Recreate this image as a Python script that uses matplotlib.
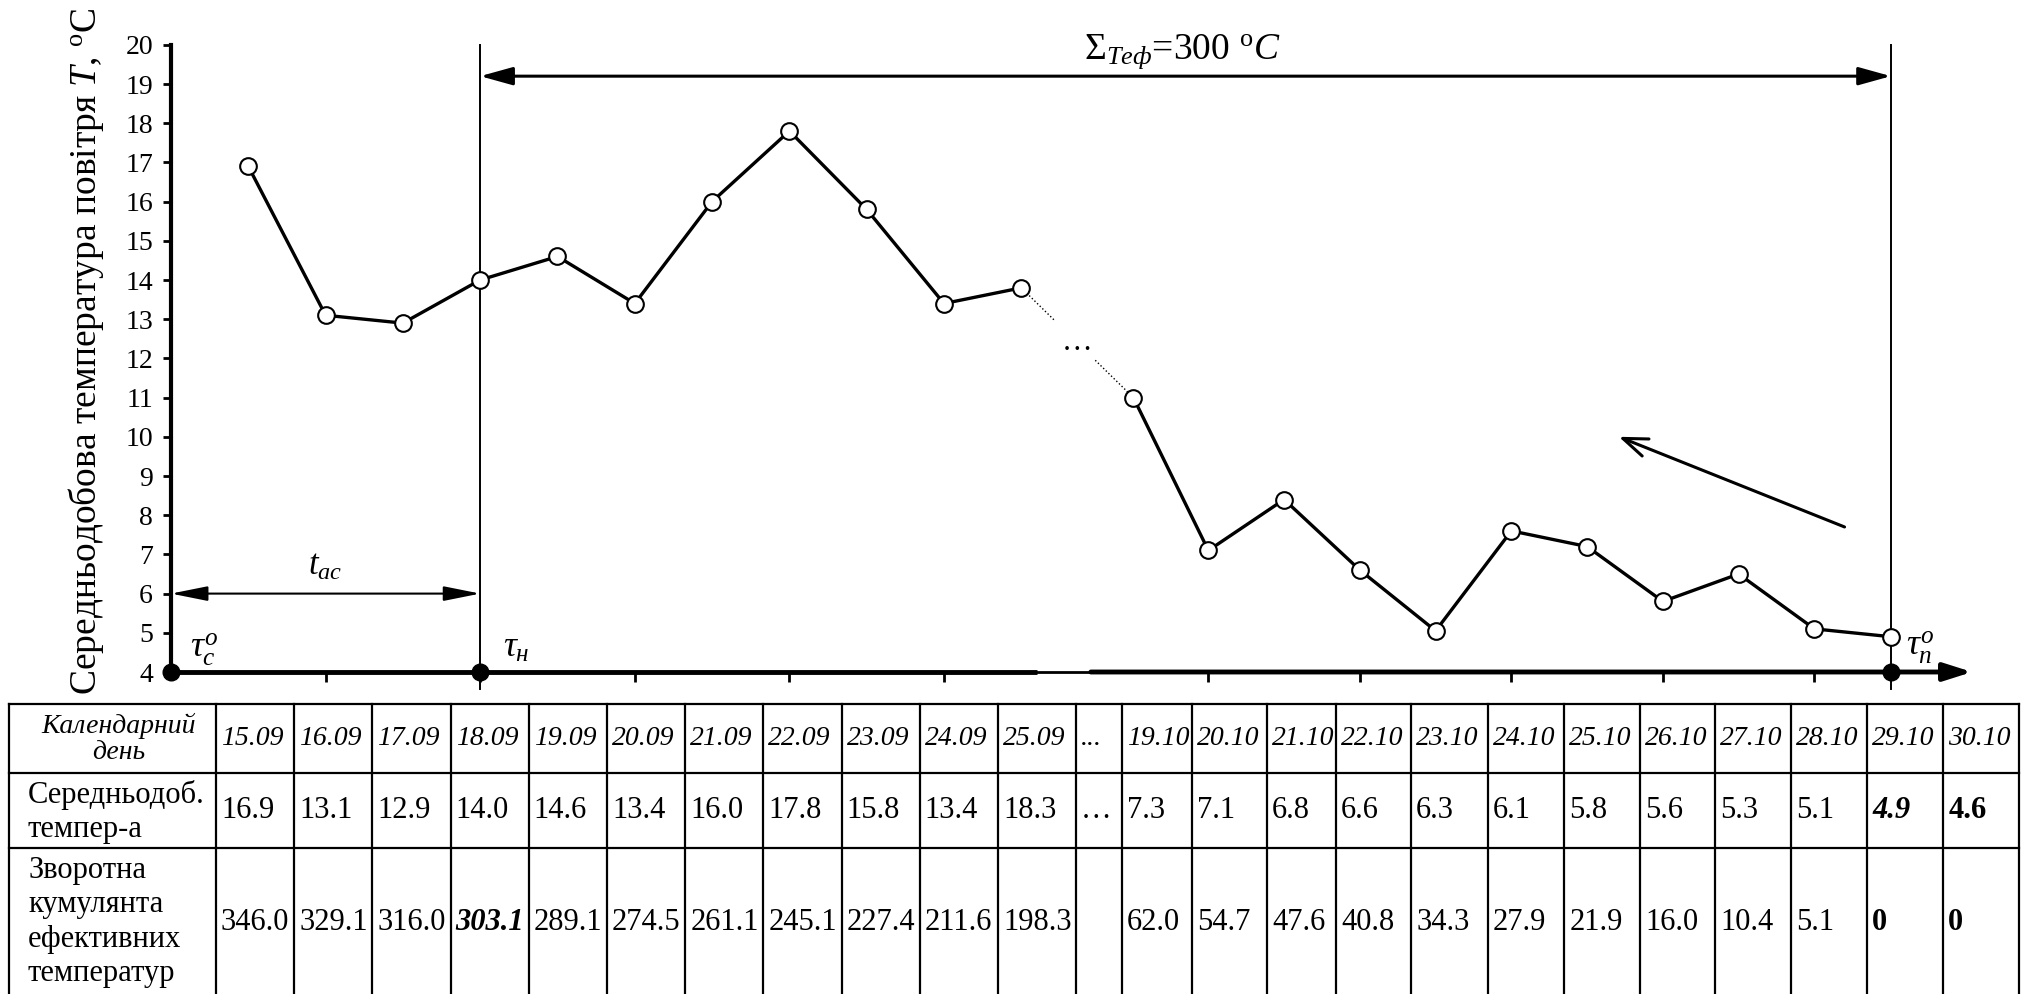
import matplotlib
matplotlib.use("Agg")
import matplotlib.pyplot as plt

plt.rcParams["font.family"] = ["Liberation Serif", "DejaVu Serif"]
plt.rcParams["mathtext.fontset"] = "custom"
plt.rcParams["mathtext.rm"] = "Liberation Serif"
plt.rcParams["mathtext.it"] = "Liberation Serif:italic"
plt.rcParams["mathtext.bf"] = "Liberation Serif:bold"

# ---- data ----
# plotted points before the break (day index 1..11 = 15.09..25.09)
x_sep = [1, 2, 3, 4, 5, 6, 7, 8, 9, 10, 11]
t_sep = [16.9, 13.1, 12.9, 14.0, 14.6, 13.4, 16.0, 17.8, 15.8, 13.4, 13.8]
# plotted points after the break (19.10..29.10)
x_oct = [12.45, 13.42, 14.4, 15.38, 16.36, 17.34, 18.32, 19.3, 20.28, 21.26, 22.25]
t_oct = [11.0, 7.1, 8.4, 6.6, 5.05, 7.6, 7.2, 5.8, 6.5, 5.1, 4.9]
x_ticks = [2, 4, 6, 8, 10, 13.42, 15.38, 17.34, 19.3, 21.26]

# table
dates = ["15.09", "16.09", "17.09", "18.09", "19.09", "20.09", "21.09", "22.09",
         "23.09", "24.09", "25.09", "...", "19.10", "20.10", "21.10", "22.10",
         "23.10", "24.10", "25.10", "26.10", "27.10", "28.10", "29.10", "30.10"]
temps = ["16.9", "13.1", "12.9", "14.0", "14.6", "13.4", "16.0", "17.8", "15.8",
         "13.4", "18.3", "\u2026", "7.3", "7.1", "6.8", "6.6", "6.3", "6.1", "5.8",
         "5.6", "5.3", "5.1", "4.9", "4.6"]
cumul = ["346.0", "329.1", "316.0", "303.1", "289.1", "274.5", "261.1", "245.1",
         "227.4", "211.6", "198.3", "", "62.0", "54.7", "47.6", "40.8", "34.3",
         "27.9", "21.9", "16.0", "10.4", "5.1", "0", "0"]
row_names = ["Календарний\nдень", "Середньодоб.\nтемпер-а",
             "Зворотна\nкумулянта\nефективних\nтемператур"]
# (row, col) -> (weight, style)
special = {(1, 22): ("bold", "italic"), (1, 23): ("bold", "normal"),
           (2, 3): ("bold", "italic"), (2, 22): ("bold", "normal"),
           (2, 23): ("bold", "normal")}

W, H = 2031, 994
fig = plt.figure(figsize=(W / 100, H / 100), dpi=100)

# ---- chart ----
ax = fig.add_axes([171 / W, (H - 672) / H, 23.4 * 77.3 / W, 16 * 39.2 / H])
ax.set_xlim(0, 23.4)
ax.set_ylim(4, 20)
for s in ["top", "right", "bottom"]:
    ax.spines[s].set_visible(False)
ax.spines["left"].set_linewidth(3)
ax.set_yticks(range(4, 21))
ax.tick_params(axis="y", direction="out", length=6, width=2, labelsize=20, pad=7)
ax.set_xticks(x_ticks)
ax.tick_params(axis="x", direction="out", length=7, width=2, labelbottom=False)

t_start = x_sep[3]
t_end = x_oct[-1]

# x axis with a small break and arrow
ax.plot([0, 11.2], [4, 4], color="k", lw=3.5, clip_on=False, solid_capstyle="butt")
ax.plot([11.2, 11.9], [4, 4], color="k", lw=2, clip_on=False)
ax.annotate("", xy=(23.3, 4), xytext=(11.9, 4), annotation_clip=False,
            arrowprops=dict(arrowstyle="-|>,head_length=0.85,head_width=0.27",
                            lw=3.5, color="k", mutation_scale=20, shrinkA=0, shrinkB=0))

# vertical marker lines
for xv in [t_start, t_end]:
    ax.plot([xv, xv], [3.57, 20], color="k", lw=1.4, clip_on=False)

# series
line_kw = dict(color="k", lw=2.4, marker="o", ms=12, mfc="white", mec="k", mew=1.5,
               zorder=5, clip_on=False)
ax.plot(x_sep, t_sep, **line_kw)
ax.plot(x_oct, t_oct, **line_kw)

# dotted break between the two series
xa, ya, xb, yb = x_sep[-1], t_sep[-1], x_oct[0], t_oct[0]
ax.plot([xa, xa + 0.3 * (xb - xa)], [ya, ya + 0.3 * (yb - ya)], color="k", lw=1, ls=":", zorder=4)
ax.plot([xa + 0.66 * (xb - xa), xb], [ya + 0.66 * (yb - ya), yb], color="k", lw=1, ls=":", zorder=4)
ax.text((xa + xb) / 2, (ya + yb) / 2, "\u2026", fontsize=22, ha="center", va="center")

# dots on the time axis
ax.plot([0, t_start, t_end], [4, 4, 4], "ko", ms=12, clip_on=False, zorder=7)

# sum of effective temperatures arrow
ax.annotate("", xy=(t_start, 19.2), xytext=(t_end, 19.2),
            arrowprops=dict(arrowstyle="<|-|>,head_length=0.9,head_width=0.25",
                            lw=2.2, color="k", mutation_scale=22, shrinkA=0, shrinkB=0))
ax.text(13.08, 19.66, r"$\Sigma_{Teф}$=300 $^{\mathrm{o}}C$", fontsize=27,
        ha="center", va="baseline")

# t_ac arrow
ax.annotate("", xy=(0, 6), xytext=(t_start, 6),
            arrowprops=dict(arrowstyle="<|-|>,head_length=1.4,head_width=0.28",
                            lw=1.5, color="k", mutation_scale=16, shrinkA=0, shrinkB=0))
ax.text(t_start / 2, 6.47, r"$t_{ac}$", fontsize=25, ha="center", va="baseline")

# tau labels
ax.text(0.25, 4.38, r"$\tau_c^o$", fontsize=26, ha="left", va="baseline")
ax.text(t_start + 0.3, 4.38, r"$\tau_н$", fontsize=26, ha="left", va="baseline")
ax.text(t_end + 0.2, 4.42, r"$\tau_n^o$", fontsize=26, ha="left", va="baseline")

# trend arrow
ax.annotate("", xy=(18.73, 10.0), xytext=(21.65, 7.7),
            arrowprops=dict(arrowstyle="->,head_length=0.8,head_width=0.3",
                            lw=2.2, color="k", mutation_scale=22, shrinkA=0, shrinkB=0))

fig.text(86 / W, (H - 351) / H, r"Середньодобова температура повітря $T$, $^{\mathrm{o}}$C",
         rotation=90, fontsize=27, ha="center", va="center")

# ---- table ----
tax = fig.add_axes([0, 0, 1, 1])
tax.set_xlim(0, W)
tax.set_ylim(H, 0)
tax.axis("off")

col_w = [207] + [78.2] * 11 + [46] + [70, 75, 69, 75, 76.5, 76.5, 76, 75, 76, 76, 76, 76]
col_x = [9]
for w in col_w:
    col_x.append(col_x[-1] + w)
row_y = [704, 773, 848, 996]

for yy in row_y[:3]:
    tax.plot([col_x[0], col_x[-1]], [yy, yy], color="k", lw=1.6)
for xx in col_x:
    tax.plot([xx, xx], [row_y[0], H], color="k", lw=1.6)

rows = [dates, temps, cumul]
label_y = [739, 812, 922]
label_ls = [1.05, 1.2, 1.25]
for r in range(3):
    yc = (row_y[r] + row_y[r + 1]) / 2
    if r == 0:
        tax.text((col_x[0] + col_x[1]) / 2 + 6, label_y[r], row_names[r], fontsize=20,
                 style="italic", ha="center", va="center", linespacing=label_ls[r])
    else:
        tax.text(col_x[0] + 19, label_y[r], row_names[r], fontsize=22,
                 ha="left", va="center", linespacing=label_ls[r])
    for c, val in enumerate(rows[r]):
        weight, style = special.get((r, c), ("normal", "italic" if r == 0 else "normal"))
        tax.text(col_x[c + 1] + 5, yc if r < 2 else label_y[r], val,
                 fontsize=20 if r == 0 else 22,
                 fontweight=weight, style=style, ha="left", va="center")

fig.savefig("out.png", dpi=100)
